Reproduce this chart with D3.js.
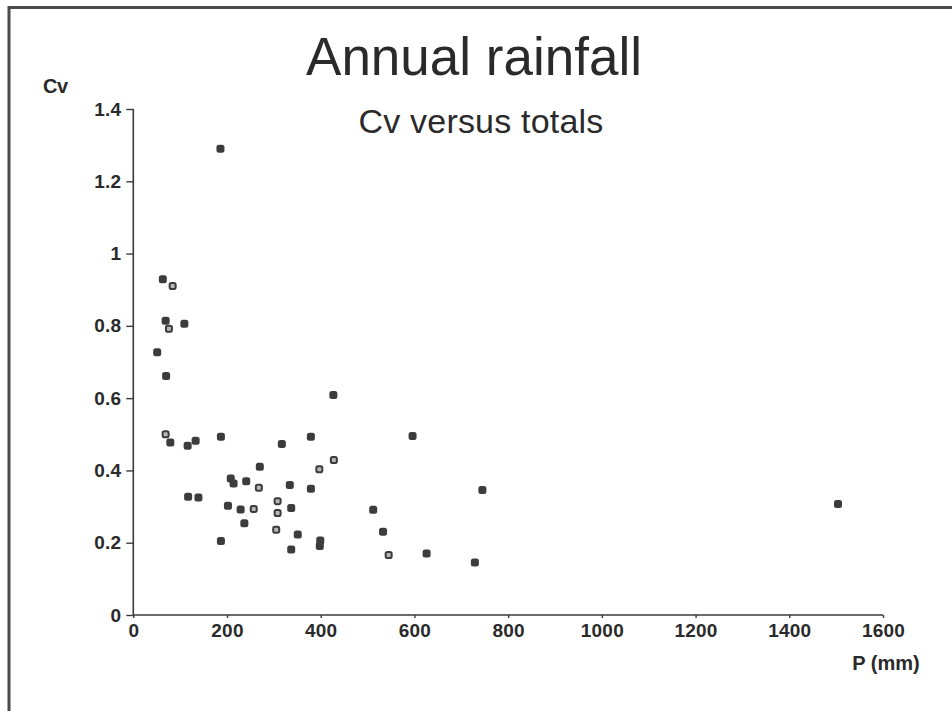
<!DOCTYPE html>
<html>
<head>
<meta charset="utf-8">
<script src="https://cdn.jsdelivr.net/npm/d3@7/dist/d3.min.js"></script>
<style>
  html, body { margin: 0; padding: 0; background: #fff; }
  svg { display: block; }
  text { font-family: "Liberation Sans", Arial, Helvetica, sans-serif; fill: #2a2a2a; }
</style>
</head>
<body>
<script>
// ---- data ----
const chartTitle = "Annual rainfall";
const chartSubtitle = "Cv versus totals";
const xAxisLabel = "P (mm)";
const yAxisLabel = "Cv";

const xTicks = [0, 200, 400, 600, 800, 1000, 1200, 1400, 1600];
const yTicks = [0, 0.2, 0.4, 0.6, 0.8, 1, 1.2, 1.4];

// filled markers
const filledP  = [186, 63, 69, 109, 51, 70, 427, 79, 116, 133, 187, 317, 379, 596,
                  270, 208, 214, 241, 334, 379, 745, 1504, 117, 139, 202, 229, 337,
                  512, 237, 351, 533, 187, 399, 398, 337, 626, 729];
const filledCv = [1.29, 0.929, 0.814, 0.806, 0.727, 0.661, 0.609, 0.477, 0.468, 0.482, 0.493, 0.473, 0.493, 0.495,
                  0.410, 0.378, 0.364, 0.370, 0.360, 0.349, 0.346, 0.307, 0.327, 0.325, 0.302, 0.292, 0.296,
                  0.291, 0.254, 0.223, 0.230, 0.205, 0.206, 0.191, 0.181, 0.170, 0.145];

// open markers
const openP  = [84, 76, 69, 428, 397, 268, 257, 308, 308, 305, 545];
const openCv = [0.910, 0.792, 0.500, 0.429, 0.403, 0.352, 0.293, 0.315, 0.282, 0.236, 0.166];

// ---- layout ----
const W = 952, H = 711;
const svg = d3.select("body").append("svg").attr("width", W).attr("height", H);

svg.append("rect").attr("x", 0).attr("y", 0).attr("width", W).attr("height", H).attr("fill", "#fff");

// frame (top and left edges visible)
svg.append("path")
  .attr("d", `M9,${H} L9,7.5 L${W},7.5`)
  .attr("fill", "none").attr("stroke", "#4a4a4a").attr("stroke-width", 3);

const x = d3.scaleLinear().domain([0, 1600]).range([133.3, 883]);
const y = d3.scaleLinear().domain([0, 1.4]).range([615, 109]);

// axes
const xAxis = d3.axisBottom(x).tickValues(xTicks).tickSize(3).tickPadding(6)
  .tickFormat(d3.format("d"));
const yAxis = d3.axisLeft(y).tickValues(yTicks).tickSize(7).tickPadding(5)
  .tickFormat(d => d === 0 || d === 1 ? String(d) : d3.format(".1f")(d));

const gx = svg.append("g").attr("transform", `translate(0,${y(0)})`).call(xAxis);
const gy = svg.append("g").attr("transform", `translate(${x(0)},0)`).call(yAxis);

[gx, gy].forEach(g => {
  g.select(".domain").attr("stroke", "#3a3a3a").attr("stroke-width", 1.6);
  g.selectAll(".tick line").attr("stroke", "#3a3a3a").attr("stroke-width", 1.4);
  g.selectAll(".tick text")
    .attr("fill", "#2a2a2a")
    .style("font-family", '"Liberation Sans", Arial, sans-serif')
    .style("font-size", "19px")
    .style("font-weight", "bold")
    .style("letter-spacing", "0.2px");
});
gx.select(".domain").attr("d", `M${x(0)},0H${x(1600)}`);
gy.select(".domain").attr("d", `M0,${y(0)}V${y(1.4)}`);

// titles
svg.append("text").attr("x", 474).attr("y", 75).attr("text-anchor", "middle")
  .style("font-size", "53px").text(chartTitle);
svg.append("text").attr("x", 481).attr("y", 133).attr("text-anchor", "middle")
  .style("font-size", "34px").style("letter-spacing", "0.2px").text(chartSubtitle);

// axis labels
svg.append("text").attr("x", 43).attr("y", 93)
  .style("font-size", "20px").style("font-weight", "bold").style("letter-spacing", "-0.5px").text(yAxisLabel);
svg.append("text").attr("x", 886).attr("y", 670).attr("text-anchor", "middle")
  .style("font-size", "20px").style("font-weight", "bold").text(xAxisLabel);

// markers
const s = 8;
const filled = filledP.map((p, i) => ({ p, cv: filledCv[i] }));
const open = openP.map((p, i) => ({ p, cv: openCv[i] }));

svg.append("g").selectAll("rect").data(filled).join("rect")
  .attr("x", d => x(d.p) - s / 2).attr("y", d => y(d.cv) - s / 2)
  .attr("width", s).attr("height", s).attr("rx", 2.5)
  .attr("fill", "#3c3c3c");

svg.append("g").selectAll("rect").data(open).join("rect")
  .attr("x", d => x(d.p) - s / 2 + 1).attr("y", d => y(d.cv) - s / 2 + 1)
  .attr("width", s - 2).attr("height", s - 2).attr("rx", 1.8)
  .attr("fill", "#b8b8b8").attr("stroke", "#3c3c3c").attr("stroke-width", 2);
</script>
</body>
</html>
